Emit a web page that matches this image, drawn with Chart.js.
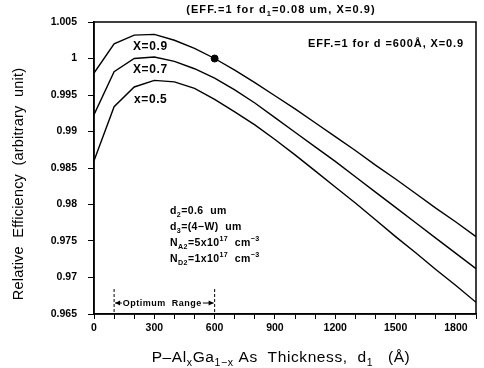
<!DOCTYPE html>
<html>
<head>
<meta charset="utf-8">
<script src="https://cdn.jsdelivr.net/npm/chart.js@4.4.1/dist/chart.umd.min.js"></script>
<style>
  html, body { margin: 0; padding: 0; background: #fff; }
  #wrap { width: 484px; height: 368px; }
</style>
</head>
<body>
<div id="wrap"><canvas id="effChart" width="484" height="368"></canvas></div>
<script>
// Thickness d1 (Angstrom)
const thickness = [0, 100, 200, 300, 400, 500, 600, 700, 800, 900, 1000,
                   1100, 1200, 1300, 1400, 1500, 1600, 1700, 1800, 1900];

// Relative efficiency per Al fraction
const effX09 = [0.9980, 1.0020, 1.0032, 1.0033, 1.0025, 1.0014, 1.0000, 0.9984, 0.9967, 0.9949,
                0.9931, 0.9912, 0.9893, 0.9874, 0.9854, 0.9835, 0.9815, 0.9795, 0.9776, 0.9756];
const effX07 = [0.9923, 0.9982, 1.0000, 1.0002, 0.9996, 0.9986, 0.9973, 0.9957, 0.9939, 0.9919,
                0.9899, 0.9879, 0.9859, 0.9838, 0.9817, 0.9796, 0.9775, 0.9754, 0.9733, 0.9712];
const effX05 = [0.9860, 0.9934, 0.9961, 0.9970, 0.9968, 0.9959, 0.9944, 0.9927, 0.9909, 0.9889,
                0.9868, 0.9846, 0.9824, 0.9802, 0.9779, 0.9756, 0.9734, 0.9711, 0.9689, 0.9666];

// Reference point (EFF.=1 at 600 A, X=0.9)
const refThickness = [600];
const refEff = [1.0];

// Optimum range bounds
const optimumRange = [100, 600];

const xTickLabels = [0, 300, 600, 900, 1200, 1500, 1800];
const yTickLabels = ['0.965', '0.97', '0.975', '0.98', '0.985', '0.99', '0.995', '1', '1.005'];

const FONT = '"Liberation Sans", Arial, Helvetica, sans-serif';

function toPoints(xs, ys) {
    return xs.map((x, i) => ({ x: x, y: ys[i] }));
}

// Draw text made of runs, some of them sub- or superscript
function drawRuns(ctx, x, y, runs, size, weight, align, spacing) {
    ctx.letterSpacing = (spacing || 0) + 'px';
    const parts = runs.map(r => {
        const s = (r.sub || r.sup) ? size * 0.68 : size;
        ctx.font = `${weight} ${s}px ${FONT}`;
        return Object.assign({}, r, { s: s, w: ctx.measureText(r.t).width });
    });
    const total = parts.reduce((a, p) => a + p.w, 0);
    let cx = align === 'center' ? x - total / 2 : (align === 'right' ? x - total : x);
    ctx.textAlign = 'left';
    ctx.textBaseline = 'alphabetic';
    parts.forEach(p => {
        ctx.font = `${weight} ${p.s}px ${FONT}`;
        const dy = p.sub ? size * 0.28 : (p.sup ? -size * 0.45 : 0);
        ctx.fillText(p.t, cx, y + dy);
        cx += p.w;
    });
    ctx.letterSpacing = '0px';
}

const annotationPlugin = {
    id: 'annotations',
    afterDraw(chart) {
        const ctx = chart.ctx;
        const area = chart.chartArea;
        const xs = chart.scales.x;
        ctx.save();
        ctx.fillStyle = '#000';
        ctx.strokeStyle = '#000';

        // frame
        ctx.lineWidth = 1.5;
        ctx.strokeRect(area.left, area.top, area.right - area.left, area.bottom - area.top);

        // top caption
        drawRuns(ctx, 281, 13, [
            { t: '(EFF.=1 for d' }, { t: '1', sub: true }, { t: '=0.08 um, X=0.9)' }
        ], 11, 'bold', 'center', 1.1);

        // caption inside plot
        drawRuns(ctx, 308, 47, [{ t: 'EFF.=1 for d =600Å, X=0.9' }], 11, 'bold', 'left', 0.9);

        // curve labels
        drawRuns(ctx, 133, 50, [{ t: 'X=0.9' }], 12, 'bold', 'left', 0.6);
        drawRuns(ctx, 133, 73, [{ t: 'X=0.7' }], 12, 'bold', 'left', 0.6);
        drawRuns(ctx, 134, 103, [{ t: 'x=0.5' }], 12, 'bold', 'left', 0.6);

        // parameter block
        const ps = 10.5, sp = 0.4;
        drawRuns(ctx, 170, 214, [{ t: 'd' }, { t: '2', sub: true }, { t: '=0.6  um' }], ps, 'bold', 'left', sp);
        drawRuns(ctx, 170, 230, [{ t: 'd' }, { t: '3', sub: true }, { t: '=(4\u2212W)  um' }], ps, 'bold', 'left', sp);
        drawRuns(ctx, 170, 246, [{ t: 'N' }, { t: 'A2', sub: true }, { t: '=5x10' }, { t: '17', sup: true },
                                 { t: '  cm' }, { t: '\u22123', sup: true }], ps, 'bold', 'left', sp);
        drawRuns(ctx, 170, 262, [{ t: 'N' }, { t: 'D2', sub: true }, { t: '=1x10' }, { t: '17', sup: true },
                                 { t: '  cm' }, { t: '\u22123', sup: true }], ps, 'bold', 'left', sp);

        // optimum range markers
        const xa = xs.getPixelForValue(optimumRange[0]);
        const xb = xs.getPixelForValue(optimumRange[1]);
        ctx.lineWidth = 1;
        ctx.setLineDash([3, 2]);
        [xa, xb].forEach(px => {
            ctx.beginPath();
            ctx.moveTo(px, 289);
            ctx.lineTo(px, area.bottom);
            ctx.stroke();
        });
        ctx.setLineDash([]);
        ctx.letterSpacing = '0.5px';
        ctx.font = `bold 9px ${FONT}`;
        const label = 'Optimum  Range';
        const lw = ctx.measureText(label).width;
        const mid = (xa + xb) / 2 - 2;
        ctx.textAlign = 'center';
        ctx.fillText(label, mid, 306);
        ctx.letterSpacing = '0px';
        const ay = 303;
        const l1 = mid - lw / 2 - 1, r1 = mid + lw / 2 + 1;
        ctx.beginPath();
        ctx.moveTo(xa + 1, ay); ctx.lineTo(l1, ay);
        ctx.moveTo(r1, ay); ctx.lineTo(xb - 1, ay);
        ctx.stroke();
        ctx.beginPath();
        ctx.moveTo(xa + 1, ay); ctx.lineTo(xa + 6, ay - 2.5); ctx.lineTo(xa + 6, ay + 2.5); ctx.closePath();
        ctx.moveTo(xb - 1, ay); ctx.lineTo(xb - 6, ay - 2.5); ctx.lineTo(xb - 6, ay + 2.5); ctx.closePath();
        ctx.fill();

        // axis titles
        drawRuns(ctx, 281, 362, [
            { t: 'P\u2013Al' }, { t: 'x', sub: true }, { t: 'Ga' }, { t: '1\u2212x', sub: true },
            { t: ' As  Thickness,  d' }, { t: '1', sub: true }, { t: '   (Å)' }
        ], 15.5, 'normal', 'center', 0.6);

        ctx.save();
        ctx.translate(23, 184);
        ctx.rotate(-Math.PI / 2);
        drawRuns(ctx, 0, 0, [{ t: 'Relative  Efficiency  (arbitrary  unit)' }], 14.5, 'normal', 'center', 0.2);
        ctx.restore();

        ctx.restore();
    }
};

const lineStyle = {
    borderColor: '#000',
    borderWidth: 1.4,
    pointRadius: 0,
    tension: 0,
    fill: false
};

new Chart(document.getElementById('effChart'), {
    type: 'line',
    data: {
        datasets: [
            Object.assign({ label: 'X=0.9', data: toPoints(thickness, effX09) }, lineStyle),
            Object.assign({ label: 'X=0.7', data: toPoints(thickness, effX07) }, lineStyle),
            Object.assign({ label: 'x=0.5', data: toPoints(thickness, effX05) }, lineStyle),
            {
                label: 'reference',
                data: toPoints(refThickness, refEff),
                showLine: false,
                pointRadius: 3.5,
                pointBackgroundColor: '#000',
                pointBorderColor: '#000'
            }
        ]
    },
    options: {
        responsive: false,
        animation: false,
        layout: { padding: { top: 22, right: 8, left: 0, bottom: 0 } },
        plugins: {
            legend: { display: false },
            tooltip: { enabled: false }
        },
        scales: {
            x: {
                type: 'linear',
                min: 0,
                max: 1900,
                afterFit: s => { s.height = 54; },
                grid: { drawOnChartArea: false, drawTicks: true, tickLength: 5, color: '#000', lineWidth: 1 },
                border: { display: true, color: '#000', width: 1.5 },
                ticks: {
                    stepSize: 100,
                    autoSkip: false,
                    maxRotation: 0,
                    padding: 3,
                    color: '#000',
                    font: { family: FONT, size: 10.5, weight: 'bold' },
                    callback: v => xTickLabels.includes(v) ? String(v) : ''
                }
            },
            y: {
                min: 0.965,
                max: 1.005,
                afterFit: s => { s.width = 94; },
                grid: { drawOnChartArea: false, drawTicks: true, tickLength: 6, color: '#000', lineWidth: 1 },
                border: { display: true, color: '#000', width: 1.5 },
                ticks: {
                    stepSize: 0.005,
                    padding: 11,
                    color: '#000',
                    font: { family: FONT, size: 10.5, weight: 'bold' },
                    callback: (v, i) => yTickLabels[i] !== undefined ? yTickLabels[i] : ''
                }
            }
        }
    },
    plugins: [annotationPlugin]
});
</script>
</body>
</html>
